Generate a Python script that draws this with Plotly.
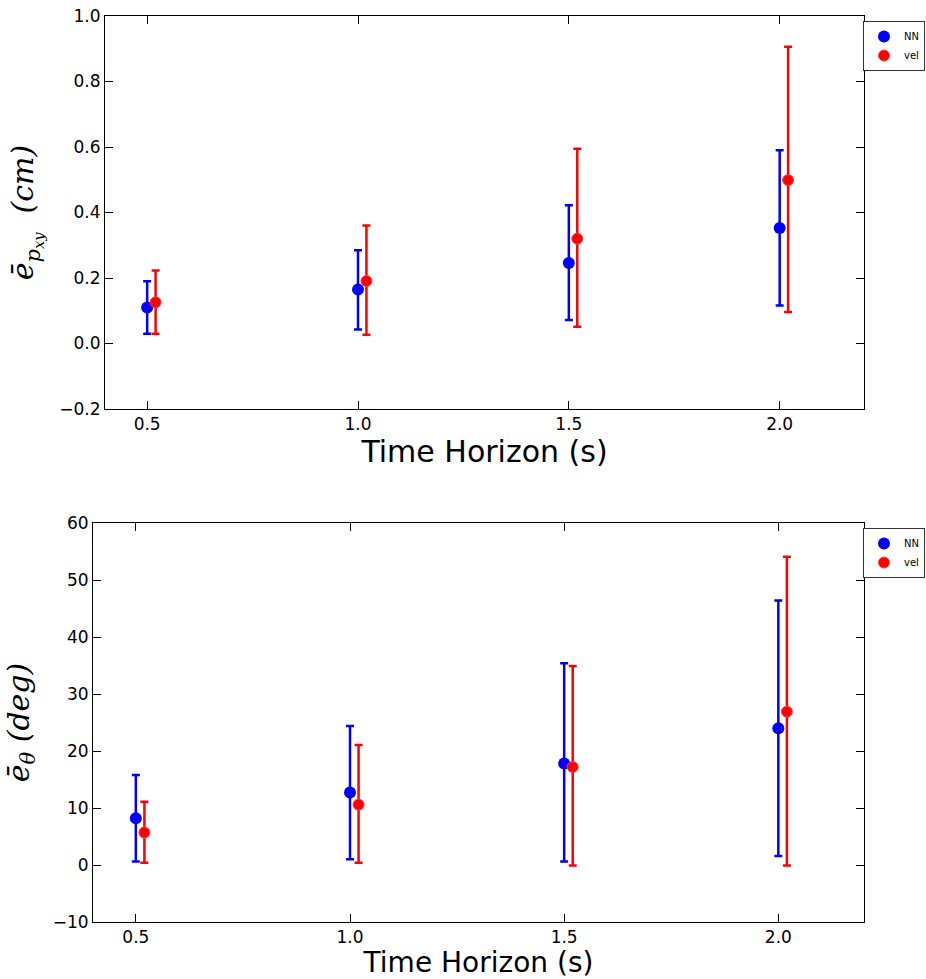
import plotly.graph_objects as go

horizons = [0.5, 1.0, 1.5, 2.0]
offset_vel = 0.02

# top panel: position error (cm)
nn_p = [0.11, 0.165, 0.246, 0.353]
nn_p_hi = [0.19, 0.285, 0.422, 0.59]
nn_p_lo = [0.03, 0.043, 0.072, 0.116]
vel_p = [0.126, 0.191, 0.32, 0.499]
vel_p_hi = [0.223, 0.36, 0.595, 0.906]
vel_p_lo = [0.03, 0.027, 0.051, 0.096]

# bottom panel: heading error (deg)
nn_t = [8.2, 12.7, 17.8, 24.0]
nn_t_hi = [15.8, 24.4, 35.4, 46.4]
nn_t_lo = [0.6, 1.0, 0.6, 1.6]
vel_t = [5.7, 10.6, 17.2, 26.9]
vel_t_hi = [11.1, 21.05, 34.9, 54.1]
vel_t_lo = [0.4, 0.4, -0.1, -0.1]

x_vel = [h + offset_vel for h in horizons]


def err(c, hi, lo):
    return dict(type="data", symmetric=False,
                array=[h - v for h, v in zip(hi, c)],
                arrayminus=[v - l for v, l in zip(c, lo)],
                thickness=2.5, width=4)


fig = go.Figure()

for (xa, ya, leg, data) in [
    ("x", "y", "legend", (nn_p, nn_p_hi, nn_p_lo, vel_p, vel_p_hi, vel_p_lo)),
    ("x2", "y2", "legend2", (nn_t, nn_t_hi, nn_t_lo, vel_t, vel_t_hi, vel_t_lo)),
]:
    n, nh, nl, v, vh, vl = data
    e1 = err(n, nh, nl); e1["color"] = "#0000ff"
    e2 = err(v, vh, vl); e2["color"] = "#ff0000"
    fig.add_trace(go.Scatter(x=horizons, y=n, mode="markers", name="NN",
                             marker=dict(color="#0000ff", size=12, line=dict(width=0)),
                             error_y=e1, xaxis=xa, yaxis=ya, legend=leg))
    fig.add_trace(go.Scatter(x=x_vel, y=v, mode="markers", name="vel",
                             marker=dict(color="#ff0000", size=11,
                                         line=dict(width=1, color="#ff4040")),
                             error_y=e2, xaxis=xa, yaxis=ya, legend=leg))

W, H = 926, 979
axis_common = dict(showline=True, linecolor="black", linewidth=1, mirror="ticks",
                   ticks="inside", ticklen=8, tickwidth=1, tickcolor="black",
                   showgrid=False, zeroline=False,
                   tickfont=dict(family="DejaVu Sans", size=17, color="black"))

xtitle = dict(text="Time Horizon (s)", font=dict(family="DejaVu Sans", size=30, color="black"),
              standoff=5)
xtitle2 = dict(text="Time Horizon (s)", font=dict(family="DejaVu Sans", size=28, color="black"),
               standoff=10)

legend_common = dict(xanchor="right", yanchor="top",
                     bordercolor="#333333", borderwidth=1, bgcolor="white",
                     font=dict(family="DejaVu Sans", size=10, color="black"),
                     tracegroupgap=0, itemwidth=30)

fig.update_layout(
    width=W, height=H,
    margin=dict(l=0, r=0, t=0, b=0, autoexpand=False),
    paper_bgcolor="white", plot_bgcolor="white",
    xaxis=dict(domain=[105 / W, 864 / W], range=[0.4, 2.2], anchor="y",
               tickvals=horizons, tickformat=".1f", title=xtitle, **axis_common),
    yaxis=dict(domain=[1 - 409 / H, 1 - 16 / H], range=[-0.2, 1.0], anchor="x",
               dtick=0.2, tick0=0, tickformat=".1f",
               title=dict(text="<i>ē</i><sub><i>p<sub>xy</sub></i></sub>  <i>(cm)</i>",
                          font=dict(family="DejaVu Serif", size=30, color="black"),
                          standoff=16),
               **axis_common),
    xaxis2=dict(domain=[93 / W, 864 / W], range=[0.4, 2.2], anchor="y2",
                tickvals=horizons, tickformat=".1f", title=xtitle2, **axis_common),
    yaxis2=dict(domain=[1 - 922 / H, 1 - 523 / H], range=[-10, 60], anchor="x2",
                dtick=10, tick0=0,
                title=dict(text="<i>ē</i><sub><i>θ</i></sub> <i>(deg)</i>",
                           font=dict(family="DejaVu Serif", size=30, color="black"),
                           standoff=14),
                **axis_common),
    legend=dict(x=925 / W, y=1 - 21 / H, **legend_common),
    legend2=dict(x=925 / W, y=1 - 528 / H, **legend_common),
)

fig.write_html("out.html")
